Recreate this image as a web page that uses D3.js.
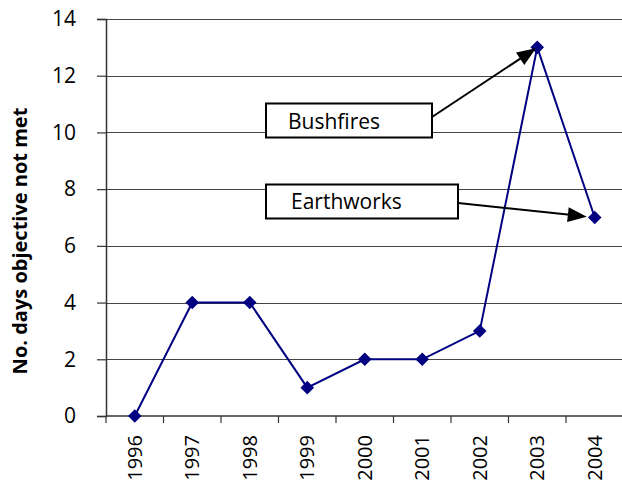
<!DOCTYPE html>
<html>
<head>
<meta charset="utf-8">
<script src="https://cdn.jsdelivr.net/npm/d3@7/dist/d3.min.js"></script>
<style>
  html, body { margin: 0; padding: 0; background: #fff; }
  svg { display: block; }
</style>
</head>
<body>
<svg id="chart" width="622" height="483"></svg>
<script>
// Days on which the air-quality objective was not met, per year
const years = ["1996", "1997", "1998", "1999", "2000", "2001", "2002", "2003", "2004"];
const daysNotMet = [0, 4, 4, 1, 2, 2, 3, 13, 7];
const yTicks = [0, 2, 4, 6, 8, 10, 12, 14];
const yTitle = "No. days objective not met";
const notes = [
  { label: "Bushfires", year: "2003" },
  { label: "Earthworks", year: "2004" }
];

const svg = d3.select("#chart");
const font = "'Open Sans', 'Noto Sans', sans-serif";

const x = d3.scaleBand().domain(years).range([106, 623.5]).padding(0);
const y = d3.scaleLinear().domain([0, 14]).range([416, 19]);

// Horizontal gridlines
svg.append("g")
  .selectAll("line")
  .data(yTicks.filter(d => d > 0))
  .join("line")
  .attr("x1", 106).attr("x2", 622)
  .attr("y1", d => Math.round(y(d)) + 0.5)
  .attr("y2", d => Math.round(y(d)) + 0.5)
  .attr("stroke", "#444").attr("stroke-width", 1);

// Y axis
const yAxis = svg.append("g")
  .attr("transform", "translate(106,0)")
  .call(d3.axisLeft(y).tickValues(yTicks).tickSize(9).tickPadding(21).tickFormat(d3.format("d")));
yAxis.select(".domain").attr("stroke", "#333").attr("stroke-width", 1.5);
yAxis.selectAll(".tick line").attr("stroke", "#333").attr("stroke-width", 1.2);
yAxis.selectAll(".tick text")
  .attr("font-family", font).attr("font-size", 21).attr("fill", "#000");

// X axis: ticks at category boundaries
const xAxisG = svg.append("g").attr("transform", `translate(0,${y(0)})`);
xAxisG.append("line")
  .attr("x1", 106).attr("x2", 622).attr("y1", 0).attr("y2", 0)
  .attr("stroke", "#333").attr("stroke-width", 1.5);
xAxisG.selectAll("line.tk")
  .data(years)
  .join("line")
  .attr("class", "tk")
  .attr("x1", d => x(d)).attr("x2", d => x(d))
  .attr("y1", 0).attr("y2", 7)
  .attr("stroke", "#333").attr("stroke-width", 1.2);
xAxisG.selectAll("text")
  .data(years)
  .join("text")
  .attr("transform", d => `translate(${x(d) + x.bandwidth() / 2 + 7},19) rotate(-90)`)
  .attr("text-anchor", "end")
  .attr("font-family", font).attr("font-size", 20).attr("fill", "#000")
  .text(d => d);

// Y axis title
svg.append("text")
  .attr("transform", `translate(27,241) rotate(-90)`)
  .attr("text-anchor", "middle")
  .attr("font-family", font).attr("font-size", 20).attr("font-weight", "bold")
  .attr("fill", "#000")
  .text(yTitle);

// Series line and diamond markers
const cx = d => x(d) + x.bandwidth() / 2;
const pts = years.map((yr, i) => [cx(yr), y(daysNotMet[i])]);

svg.append("path")
  .attr("d", d3.line()(pts))
  .attr("fill", "none").attr("stroke", "#000080").attr("stroke-width", 2);

svg.append("g")
  .selectAll("path")
  .data(pts)
  .join("path")
  .attr("transform", d => `translate(${d[0]},${d[1]}) rotate(45)`)
  .attr("d", "M-4.8,-4.8H4.8V4.8H-4.8Z")
  .attr("fill", "#000080");

// Annotation boxes with arrows pointing at the highlighted years
const boxes = [
  { x: 266, y: 103.5, w: 166, h: 34, tx: 288, ty: 129, sx: 432, sy: 117, back: 1.5 },
  { x: 266, y: 184.5, w: 192, h: 34, tx: 291, ty: 209, sx: 458, sy: 203, back: 8 }
];

notes.forEach((n, i) => {
  const b = boxes[i];
  const idx = years.indexOf(n.year);
  const px = cx(n.year), py = y(daysNotMet[idx]);
  const dx = px - b.sx, dy = py - b.sy;
  const len = Math.hypot(dx, dy);
  const ux = dx / len, uy = dy / len;
  const tipX = px - ux * b.back, tipY = py - uy * b.back;
  const headLen = 19, headW = 7.5;
  const baseX = tipX - ux * headLen, baseY = tipY - uy * headLen;

  svg.append("line")
    .attr("x1", b.sx).attr("y1", b.sy).attr("x2", baseX + ux * 2).attr("y2", baseY + uy * 2)
    .attr("stroke", "#000").attr("stroke-width", 2);
  svg.append("path")
    .attr("d", `M${tipX},${tipY}L${baseX - uy * headW},${baseY + ux * headW}L${baseX + uy * headW},${baseY - ux * headW}Z`)
    .attr("fill", "#000");

  svg.append("rect")
    .attr("x", b.x).attr("y", b.y).attr("width", b.w).attr("height", b.h)
    .attr("fill", "#fff").attr("stroke", "#000").attr("stroke-width", 2);
  svg.append("text")
    .attr("x", b.tx).attr("y", b.ty)
    .attr("font-family", font).attr("font-size", 21).attr("fill", "#000")
    .text(n.label);
});
</script>
</body>
</html>
